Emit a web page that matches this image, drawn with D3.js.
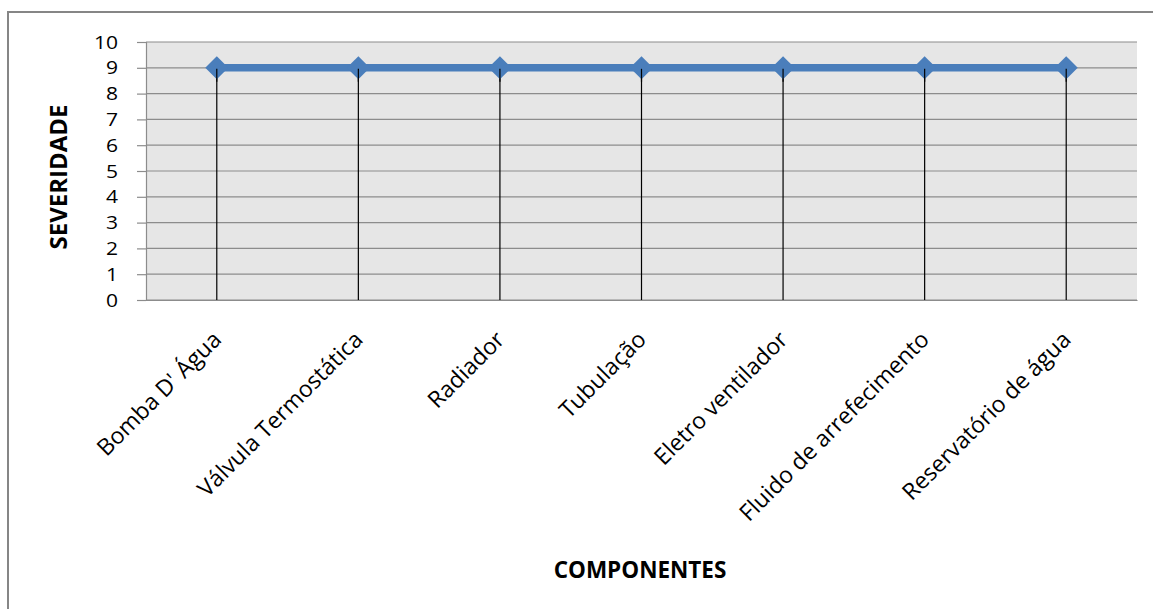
<!DOCTYPE html>
<html>
<head>
<meta charset="utf-8">
<script src="https://cdn.jsdelivr.net/npm/d3@7"></script>
<style>
  html, body { margin: 0; padding: 0; background: #fff; }
  svg { display: block; font-family: "Open Sans", Lato, sans-serif; }
</style>
</head>
<body>
<svg id="chart" width="1153" height="609"></svg>
<script>
// Severity per cooling-system component
const components = [
  "Bomba D' Água",
  "Válvula Termostática",
  "Radiador",
  "Tubulação",
  "Eletro ventilador",
  "Fluido de arrefecimento",
  "Reservatório de água"
];
const severity = [9, 9, 9, 9, 9, 9, 9];
const yTicks = [0, 1, 2, 3, 4, 5, 6, 7, 8, 9, 10];

const FONT = "'Open Sans', Lato, sans-serif";
const svg = d3.select("#chart");
const plot = { left: 146, right: 1137, top: 42, bottom: 300 };

// Outer chart frame
svg.append("rect")
  .attr("x", 8).attr("y", 12)
  .attr("width", 1160).attr("height", 620)
  .attr("fill", "#fff")
  .attr("stroke", "#868686").attr("stroke-width", 2);

const x = d3.scaleBand().domain(components).range([plot.left, plot.right]);
const y = d3.scaleLinear().domain([0, 10]).range([plot.bottom, plot.top]);

// Plot background
svg.append("rect")
  .attr("x", plot.left).attr("y", plot.top)
  .attr("width", plot.right - plot.left).attr("height", plot.bottom - plot.top)
  .attr("fill", "#e6e6e6");

// Horizontal gridlines
svg.append("g").selectAll("line").data(yTicks).join("line")
  .attr("x1", plot.left).attr("x2", plot.right)
  .attr("y1", d => y(d)).attr("y2", d => y(d))
  .attr("stroke", "#8c8c8c").attr("stroke-width", 1.2);

// Y axis
const yAxis = svg.append("g")
  .attr("transform", `translate(${plot.left},0)`)
  .call(d3.axisLeft(y).tickValues(yTicks).tickSize(9).tickPadding(16).tickFormat(d3.format("d")));
yAxis.select(".domain").attr("stroke", "#8c8c8c").attr("stroke-width", 1.2);
yAxis.selectAll(".tick line").attr("stroke", "#8c8c8c").attr("stroke-width", 1.2);
yAxis.selectAll(".tick text")
  .attr("fill", "#000").attr("font-size", 18.8).attr("font-family", FONT)
  .attr("transform", "scale(1.12,1)");

// X axis (labels only, rotated)
const xAxis = svg.append("g")
  .attr("transform", `translate(0,${plot.bottom})`)
  .call(d3.axisBottom(x).tickSize(0).tickPadding(0));
xAxis.select(".domain").attr("stroke", "#8c8c8c").attr("stroke-width", 1.2);
xAxis.selectAll(".tick text")
  .attr("fill", "#000").attr("font-size", 23).attr("font-family", FONT)
  .attr("text-anchor", "end")
  .attr("dy", 0)
  .attr("transform", "translate(6,41) rotate(-45)");

// Drop lines from each point to the category axis
svg.append("g").selectAll("line").data(components).join("line")
  .attr("x1", d => x(d) + x.bandwidth() / 2).attr("x2", d => x(d) + x.bandwidth() / 2)
  .attr("y1", (d, i) => y(severity[i])).attr("y2", plot.bottom)
  .attr("stroke", "#000").attr("stroke-width", 1.2);

// Series line
const pts = components.map((c, i) => [x(c) + x.bandwidth() / 2, y(severity[i])]);
svg.append("path")
  .attr("d", d3.line()(pts))
  .attr("fill", "none").attr("stroke", "#4a7ebb").attr("stroke-width", 7.5);

// Diamond markers
svg.append("g").selectAll("path").data(pts).join("path")
  .attr("transform", d => `translate(${d[0]},${d[1]})`)
  .attr("d", d3.symbol().type(d3.symbolDiamond2).size(340))
  .attr("fill", "#4a7ebb");

// Drop lines continue through the lower half of each marker
svg.append("g").selectAll("line").data(components).join("line")
  .attr("x1", d => x(d) + x.bandwidth() / 2).attr("x2", d => x(d) + x.bandwidth() / 2)
  .attr("y1", (d, i) => y(severity[i]) + 1).attr("y2", (d, i) => y(severity[i]) + 14)
  .attr("stroke", "#000").attr("stroke-width", 1.2);

// Axis titles
svg.append("text")
  .attr("transform", "translate(67,177) rotate(-90)")
  .attr("text-anchor", "middle")
  .attr("font-size", 24).attr("font-weight", "bold")
  .attr("font-family", FONT)
  .text("SEVERIDADE");

svg.append("text")
  .attr("x", 640).attr("y", 578)
  .attr("text-anchor", "middle")
  .attr("font-size", 22.5).attr("font-weight", "bold")
  .attr("font-family", FONT)
  .text("COMPONENTES");
</script>
</body>
</html>
